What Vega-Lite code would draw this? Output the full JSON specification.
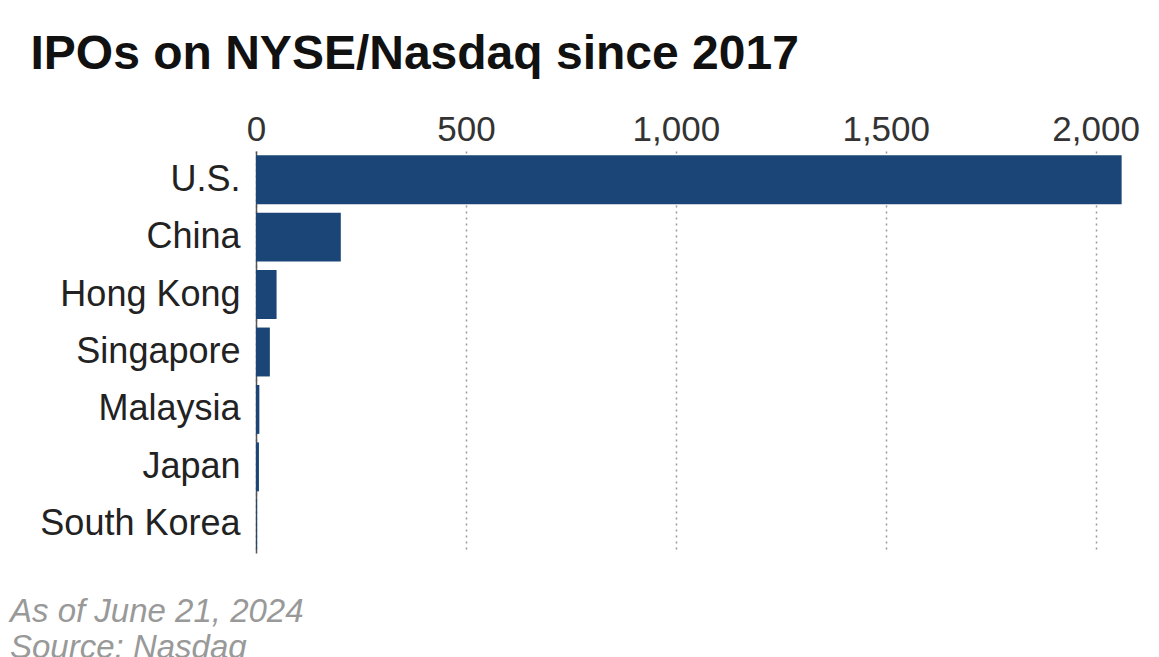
{
  "$schema": "https://vega.github.io/schema/vega-lite/v6.json",
  "autosize": "none",
  "width": 869,
  "height": 402,
  "padding": {"left": 256, "top": 151, "right": 34, "bottom": 104},
  "background": "white",
  "data": {
    "values": [
      {"country": "U.S.", "ipos": 2062},
      {"country": "China", "ipos": 202},
      {"country": "Hong Kong", "ipos": 49},
      {"country": "Singapore", "ipos": 33},
      {"country": "Malaysia", "ipos": 8},
      {"country": "Japan", "ipos": 7},
      {"country": "South Korea", "ipos": 2}
    ]
  },
  "title": {
    "text": ["As of June 21, 2024", "Source: Nasdaq"],
    "orient": "bottom",
    "anchor": "start",
    "frame": "group",
    "dx": -246,
    "offset": 69,
    "baseline": "alphabetic",
    "font": "Liberation Sans",
    "fontSize": 33,
    "fontStyle": "italic",
    "fontWeight": "normal",
    "color": "#999999",
    "lineHeight": 36
  },
  "config": {
    "view": {"stroke": null},
    "font": "Liberation Sans"
  },
  "mark": {"type": "bar", "color": "#1a4576"},
  "encoding": {
    "y": {
      "field": "country",
      "type": "nominal",
      "sort": null,
      "scale": {"paddingInner": 0.148, "paddingOuter": 0.074},
      "axis": {
        "title": null,
        "ticks": false,
        "labelFontSize": 36,
        "labelLimit": 400,
        "labelColor": "#222222",
        "labelPadding": 16,
        "domain": true,
        "domainColor": "#555555",
        "domainWidth": 1.5
      }
    },
    "x": {
      "field": "ipos",
      "type": "quantitative",
      "scale": {"domain": [0, 2070], "nice": false, "zero": true},
      "axis": {
        "orient": "top",
        "values": [0, 500, 1000, 1500, 2000],
        "format": ",d",
        "ticks": false,
        "tickSize": 0,
        "domain": false,
        "labelFontSize": 35,
        "labelColor": "#333333",
        "labelPadding": 4,
        "labelFlush": false,
        "grid": true,
        "gridDash": [2, 4],
        "gridColor": "#9a9a9a",
        "gridWidth": 1.5,
        "title": "IPOs on NYSE/Nasdaq since 2017",
        "titleFont": "Liberation Sans",
        "titleFontSize": 48,
        "titleFontWeight": "bold",
        "titleColor": "#111111",
        "titleAnchor": null,
        "titleAlign": "left",
        "titleBaseline": "alphabetic",
        "titleX": -226,
        "titleY": -83
      }
    }
  }
}
